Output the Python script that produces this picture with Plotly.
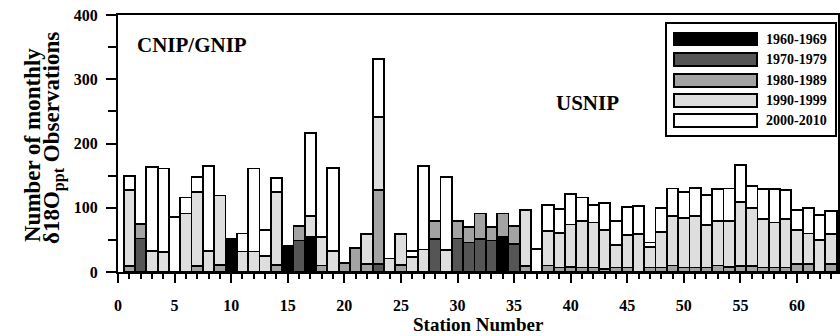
import plotly.graph_objects as go

stations = list(range(1, 64))
d1960s = [0,0,0,0,0,0,0,0,0,52, 0,0,0,0,40,0,55,0,0,0, 0,0,0,0,0,0,0,0,0,0,
          0,0,0,54,0,0,0,0,0,0, 0,0,0,0,0,0,0,0,0,0, 0,0,0,0,0,0,0,0,0,0, 0,0,0]
d1970s = [0,52,0,0,0,0,0,0,0,0, 0,0,0,0,0,49,0,0,0,0, 0,0,12,0,0,0,0,51,0,52,
          46,51,49,0,44,0,0,0,0,0, 0,0,0,0,0,0,0,0,0,0, 0,0,0,0,0,0,0,0,0,0, 0,0,0]
d1980s = [9,23,0,0,0,0,9,0,11,0, 0,0,0,11,0,23,0,10,0,14, 37,12,116,0,11,0,0,28,0,28,
          24,40,21,37,28,9,0,10,7,8, 7,7,5,7,7,0,7,7,10,7, 7,7,10,8,9,9,7,7,7,12, 13,0,12]
d1990s = [119,0,33,31,0,91,116,33,108,0, 32,32,25,113,0,0,32,45,33,0, 0,47,113,21,48,23,35,0,34,0,
          0,0,0,0,0,88,0,54,54,66, 73,70,61,35,50,59,32,55,77,77, 80,66,70,72,100,91,75,70,75,53, 47,50,47]
d2000s = [21,0,130,130,86,25,23,132,0,0, 28,129,40,22,0,0,129,0,129,0, 0,0,90,0,0,10,130,0,114,0,
          0,0,0,0,0,0,36,40,37,47, 36,27,42,37,44,44,7,38,43,41, 44,47,49,50,58,34,47,52,46,32, 40,39,36]

decades = ["1960-1969", "1970-1979", "1980-1989", "1990-1999", "2000-2010"]
series = [d1960s, d1970s, d1980s, d1990s, d2000s]
colors = ["#000000", "#555555", "#a3a3a3", "#dedede", "#ffffff"]

FONT = "Liberation Serif"

fig = go.Figure()
for name, vals, col in zip(decades, series, colors):
    fig.add_trace(go.Bar(
        x=stations, y=[v if v else None for v in vals], name=name,
        width=1.0, marker=dict(color=col, line=dict(color="black", width=1.8)),
        showlegend=False))

fig.update_layout(
    barmode="stack", width=840, height=336,
    margin=dict(l=118, r=2, t=15, b=64, autoexpand=False),
    plot_bgcolor="white", paper_bgcolor="white",
    font=dict(family=FONT, color="black"),
)
fig.update_xaxes(
    range=[0, 63.62], tickmode="linear", tick0=0, dtick=5, automargin=False,
    ticks="outside", ticklen=9, tickwidth=2, tickcolor="black",
    minor=dict(dtick=1, ticks="outside", ticklen=5, tickwidth=2, tickcolor="black"),
    showline=True, linewidth=2, linecolor="black", mirror=True,
    showgrid=False, zeroline=False,
    tickfont=dict(family=FONT, size=16, weight="bold"), ticklabelstandoff=9,
)
fig.update_yaxes(
    range=[0, 400], tickmode="linear", tick0=0, dtick=100, automargin=False,
    ticks="outside", ticklen=10, tickwidth=2, tickcolor="black",
    minor=dict(dtick=50, ticks="outside", ticklen=8, tickwidth=2, tickcolor="black"),
    showline=True, linewidth=2, linecolor="black", mirror=True,
    showgrid=False, zeroline=False,
    tickfont=dict(family=FONT, size=16, weight="bold"), ticklabelstandoff=5,
)

def px(xp):
    return (xp - 118) / 720.0

def py(yp):
    return (272 - yp) / 257.0

def note(x, y, text, size, **kw):
    fig.add_annotation(xref="paper", yref="paper", x=px(x), y=py(y), text=text,
                       showarrow=False, xanchor=kw.pop("xanchor", "center"),
                       yanchor="middle", font=dict(family=FONT, size=size, weight="bold"), **kw)

# legend box
fig.add_shape(type="rect", xref="paper", yref="paper",
              x0=px(666), x1=px(836), y0=py(136), y1=py(23),
              line=dict(color="black", width=2), fillcolor="white", layer="above")
rows = [(33, 45), (53, 66), (74, 87), (94, 107), (114, 127)]
for (t, b), name, col in zip(rows, decades, colors):
    fig.add_shape(type="rect", xref="paper", yref="paper",
                  x0=px(674), x1=px(757), y0=py(b), y1=py(t),
                  line=dict(color="black", width=2), fillcolor=col, layer="above")
    note(764, (t + b) / 2, name, 14, xanchor="left")

note(192, 45, "CNIP/GNIP", 21)
note(587, 103, "USNIP", 21)
note(478, 324, "Station Number", 19)
note(32, 145, "Number of monthly", 23, textangle=-90)
note(53, 138, "δ18O<sub>ppt</sub> Observations", 23, textangle=-90)

fig.write_html("out.html")
